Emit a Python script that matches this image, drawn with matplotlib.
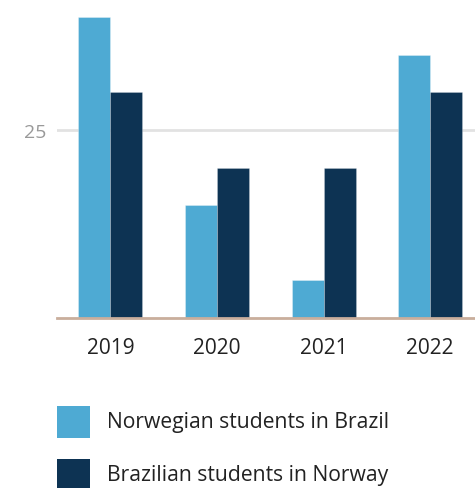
import matplotlib
matplotlib.use("Agg")
import matplotlib.pyplot as plt
from matplotlib.patches import Rectangle
import numpy as np

plt.rcParams['font.family'] = ['Open Sans', 'DejaVu Sans']

years = ["2019", "2020", "2021", "2022"]
norwegian_in_brazil = [40, 15, 5, 35]
brazilian_in_norway = [30, 20, 20, 30]
series_labels = ["Norwegian students in Brazil", "Brazilian students in Norway"]
colors = ["#4eaad3", "#0d3353"]
y_ticks = [25]

W, H = 475, 489
fig = plt.figure(figsize=(W / 100, H / 100), dpi=100)
ax = fig.add_axes([57 / W, 1 - 319 / H, 1 - 57 / W, 319 / H])

x = np.arange(len(years))
bw = 0.3
ax.bar(x - bw / 2, norwegian_in_brazil, width=bw, color=colors[0],
       edgecolor=(1, 1, 1, 0.35), linewidth=0.6, zorder=3)
ax.bar(x + bw / 2, brazilian_in_norway, width=bw, color=colors[1],
       edgecolor=(1, 1, 1, 0.25), linewidth=0.6, zorder=3)

ax.set_xlim(-0.5, 3.42)
ax.set_ylim(0, 42.4)
ax.set_yticks(y_ticks)
ax.set_yticklabels([str(t) for t in y_ticks], fontsize=14, color="#999999")
ax.set_xticks(x)
ax.set_xticklabels(years, fontsize=15, color="#222222")
ax.tick_params(axis="both", length=0)
ax.tick_params(axis="x", pad=14)
ax.tick_params(axis="y", pad=8)
ax.grid(axis="y", color="#e2e2e2", linewidth=2, zorder=0)
for s in ["top", "right", "left"]:
    ax.spines[s].set_visible(False)
ax.spines["bottom"].set_color("#c9ae9c")
ax.spines["bottom"].set_linewidth(2)
ax.spines["bottom"].set_zorder(4)

# legend drawn with figure-level squares and labels
legend_rows = [(407, 439), (460, 492)]
for (top, bottom), color, label in zip(legend_rows, colors, series_labels):
    fig.add_artist(Rectangle((57 / W, 1 - bottom / H), 33 / W, (bottom - top) / H,
                             transform=fig.transFigure, facecolor=color,
                             edgecolor="none"))
    fig.text(107 / W, 1 - (top + 16) / H, label, fontsize=15.2, color="#222222",
             va="center", ha="left")

fig.savefig("out.png", dpi=100)
